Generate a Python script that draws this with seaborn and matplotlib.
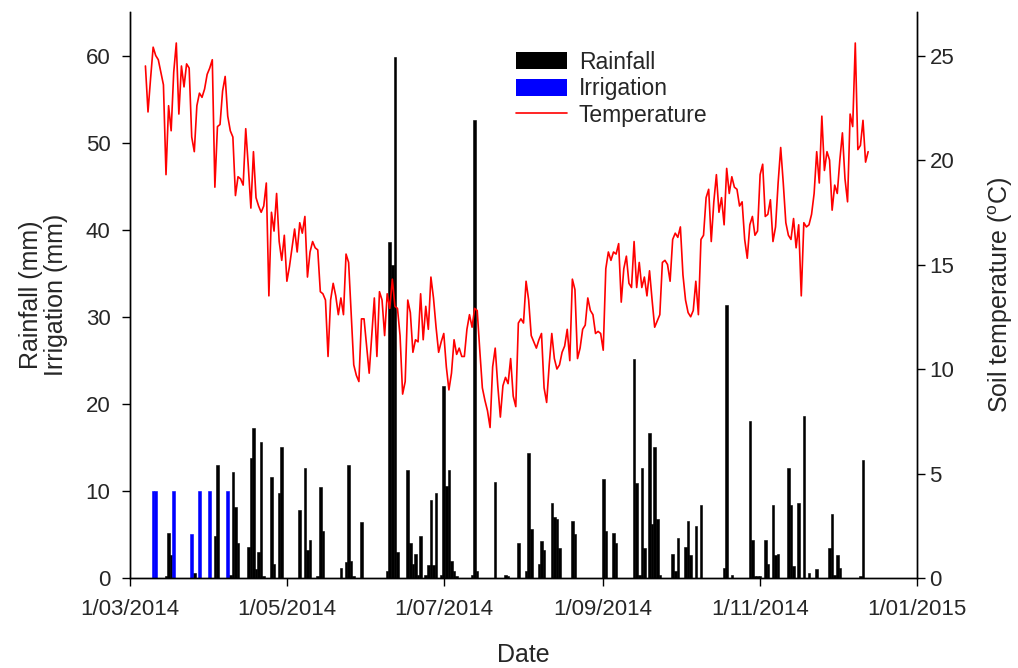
import numpy as np
import pandas as pd
import matplotlib
matplotlib.use("Agg")
import matplotlib.pyplot as plt
import matplotlib.dates as mdates
from matplotlib.patches import Patch
from matplotlib.lines import Line2D
from matplotlib.ticker import FuncFormatter
import seaborn as sns

# ---------------- data (days counted from 1 March 2014) ----------------
start = pd.Timestamp("2014-03-01")

rain_day = [14, 15, 16, 25, 33, 34, 39, 40, 41, 42, 46, 47, 48, 49, 50, 51, 52, 55, 56, 58,
            59, 66, 68, 69, 70, 73, 74, 75, 82, 84, 85, 86, 87, 90, 100, 101, 102, 103, 104, 108,
            109, 110, 111, 112, 113, 115, 116, 117, 118, 119, 121, 122, 123, 124, 125, 126, 127, 133, 134, 135,
            142, 146, 147, 151, 154, 155, 156, 159, 160, 161, 164, 165, 166, 167, 172, 173, 184, 185, 188, 189,
            196, 197, 198, 199, 200, 202, 203, 204, 205, 206, 211, 212, 213, 216, 217, 218, 220, 222, 231, 232,
            234, 241, 242, 243, 244, 245, 247, 248, 250, 251, 252, 256, 257, 258, 260, 262, 264, 267, 272, 273,
            274, 275, 276, 284, 285]
rain_mm = [0.2, 5.2, 2.6, 0.6, 4.8, 13.0, 0.4, 12.2, 8.1, 4.0, 3.6, 13.8, 17.2, 1.0, 3.0, 15.6, 0.2, 11.6, 1.6, 9.8,
           15.0, 7.8, 12.6, 3.2, 4.4, 0.2, 10.4, 5.4, 1.2, 1.8, 13.0, 2.0, 0.2, 6.4, 0.8, 38.6, 36.0, 59.8, 3.0, 12.4,
           4.0, 1.6, 2.8, 0.3, 4.8, 0.4, 1.5, 9.0, 1.5, 9.8, 0.3, 22.0, 10.6, 12.4, 1.9, 0.8, 0.2, 0.3, 52.6, 0.8,
           11.0, 0.4, 0.2, 4.0, 0.8, 14.4, 5.6, 1.6, 4.2, 3.2, 8.6, 7.0, 6.8, 3.4, 6.6, 5.0, 11.4, 5.4, 5.2, 4.0,
           25.2, 10.9, 0.3, 12.6, 3.4, 16.6, 6.2, 15.1, 6.8, 0.4, 2.8, 0.8, 4.6, 3.6, 6.6, 2.6, 6.0, 8.4, 1.2, 31.4,
           0.4, 18.0, 4.4, 0.2, 0.2, 0.2, 4.4, 1.6, 8.4, 2.6, 2.8, 12.6, 8.4, 1.4, 8.6, 18.6, 0.6, 1.0, 3.4, 7.4,
           0.4, 2.6, 1.2, 0.2, 13.6]

irr_day = [9, 10, 17, 24, 27, 31, 38]
irr_mm = [10, 10, 10, 5.0, 10, 10, 10]

temp_first_day = 6
temp_c = [24.5, 22.3, 23.9, 25.4, 25.0, 24.8, 24.2, 23.6, 19.3, 22.6,
          21.4, 24.2, 25.6, 22.2, 24.5, 23.5, 24.6, 24.4, 21.1, 20.4,
          22.6, 23.2, 23.0, 23.4, 24.1, 24.4, 24.8, 18.7, 21.6, 21.7,
          23.3, 24.0, 22.1, 21.4, 21.1, 18.3, 19.2, 19.1, 18.8, 21.5,
          19.7, 17.7, 20.4, 18.2, 17.8, 17.5, 17.8, 18.9, 13.5, 17.5,
          16.6, 18.4, 16.1, 15.2, 16.4, 14.2, 14.9, 15.8, 16.7, 15.6,
          17.0, 16.5, 17.3, 14.4, 15.6, 16.1, 15.8, 15.7, 13.7, 13.6,
          13.3, 10.6, 13.3, 14.1, 13.5, 12.6, 13.4, 12.6, 15.5, 15.1,
          12.6, 10.2, 9.7, 9.4, 12.4, 12.4, 11.1, 9.8, 11.6, 13.4,
          10.6, 13.7, 13.3, 11.6, 13.6, 12.9, 14.3, 13.0, 12.9, 11.6,
          8.8, 9.4, 13.3, 12.7, 10.8, 11.4, 11.3, 13.6, 11.4, 13.0,
          11.9, 14.4, 13.4, 12.0, 10.8, 11.3, 11.7, 10.1, 9.0, 9.8,
          11.4, 10.7, 11.0, 10.6, 10.6, 11.9, 12.6, 12.0, 12.9, 12.8,
          10.9, 9.1, 8.5, 8.0, 7.2, 10.1, 11.0, 9.2, 7.7, 9.2,
          9.6, 9.3, 10.5, 8.7, 8.2, 12.2, 12.4, 12.2, 14.2, 13.3,
          11.6, 11.3, 11.0, 11.4, 11.7, 9.1, 8.4, 10.2, 11.7, 10.5,
          10.0, 10.2, 10.8, 11.1, 11.9, 10.4, 14.3, 13.8, 10.5, 11.0,
          11.9, 12.1, 13.4, 12.8, 12.6, 11.7, 11.8, 11.7, 10.9, 14.8,
          15.6, 15.2, 15.6, 15.5, 16.0, 13.2, 14.8, 15.4, 14.1, 13.9,
          16.1, 13.9, 15.1, 13.9, 14.4, 13.5, 14.7, 13.3, 12.0, 12.3,
          12.6, 15.1, 15.2, 15.0, 14.2, 16.2, 16.5, 16.3, 16.8, 14.5,
          13.3, 12.7, 12.5, 12.8, 14.2, 12.6, 16.2, 16.4, 18.2, 18.6,
          16.1, 18.0, 19.3, 17.5, 18.2, 16.9, 19.6, 18.4, 19.2, 18.7,
          18.6, 17.8, 18.0, 16.2, 15.3, 16.9, 17.3, 16.4, 16.6, 19.3,
          19.8, 17.3, 17.4, 18.1, 16.1, 16.8, 18.9, 20.6, 18.9, 17.0,
          16.4, 16.2, 17.2, 15.8, 16.9, 13.5, 17.0, 16.8, 16.9, 17.4,
          18.4, 20.4, 18.9, 22.1, 19.5, 20.4, 20.0, 17.6, 18.8, 18.4,
          20.0, 21.3, 19.1, 18.0, 22.2, 21.6, 25.6, 20.5, 20.7, 21.9,
          19.9, 20.4]

x_tick_dates = ["2014-03-01", "2014-05-01", "2014-07-01", "2014-09-01", "2014-11-01", "2015-01-01"]
left_ticks = [0, 10, 20, 30, 40, 50, 60]
right_ticks = [0, 5, 10, 15, 20, 25]

# ---------------- build frames ----------------
rain_dates = start + pd.to_timedelta(rain_day, unit="D")
irr_dates = start + pd.to_timedelta(irr_day, unit="D")
temp_df = pd.DataFrame({
    "date": start + pd.to_timedelta(np.arange(len(temp_c)) + temp_first_day, unit="D"),
    "temp": temp_c,
})

# ---------------- style ----------------
sns.set_style("ticks")
plt.rcParams["font.family"] = ["Liberation Sans", "DejaVu Sans"]
plt.rcParams["axes.linewidth"] = 1.0

fig = plt.figure(figsize=(10.18, 6.68), dpi=100)
ax = fig.add_axes([130 / 1018, 1 - 578 / 668, 787 / 1018, 566 / 668])

ax.bar(rain_dates, rain_mm, width=1.0, color="black", edgecolor="black", linewidth=0.4, zorder=2)
ax.bar(irr_dates, irr_mm, width=1.0, color="blue", edgecolor="blue", linewidth=0.4, zorder=2)

ax2 = ax.twinx()
sns.lineplot(data=temp_df, x="date", y="temp", ax=ax2, color="red", linewidth=1.2)

ymax = 65
ax.set_ylim(0, ymax)
ax2.set_ylim(0, ymax * 25 / 60)
ax.set_yticks(left_ticks)
ax2.set_yticks(right_ticks)

xt = pd.to_datetime(x_tick_dates)
ax.set_xlim(xt[0], xt[-1])
ax.set_xticks(xt)


def fmt(v, p):
    d = mdates.num2date(v)
    return f"{d.day}/{d.month:02d}/{d.year}"


ax.xaxis.set_major_formatter(FuncFormatter(fmt))

for a in (ax, ax2):
    a.spines["top"].set_visible(False)
    for s in a.spines.values():
        s.set_color("black")

ax.tick_params(axis="both", direction="out", length=6, width=1, labelsize=16, color="black")
ax.tick_params(axis="x", pad=9)
ax.tick_params(axis="y", pad=8)
ax2.tick_params(axis="y", direction="out", length=6, width=1, labelsize=16, pad=3, color="black")

ax.set_xlabel("Date", fontsize=18, labelpad=17)
ax.set_ylabel("Rainfall (mm)\nIrrigation (mm)", fontsize=18, labelpad=13, linespacing=1.05)
ax2.set_ylabel("Soil temperature ($\\mathregular{^o}$C)", fontsize=18, labelpad=23)

handles = [Patch(facecolor="black", edgecolor="none"),
           Patch(facecolor="blue", edgecolor="none"),
           Line2D([0], [0], color="red", linewidth=1.2)]
labels = ["Rainfall", "Irrigation", "Temperature"]
ax2.legend(handles, labels, loc="upper left", bbox_to_anchor=(0.464, 0.968), frameon=False,
           fontsize=16.5, handlelength=2.25, handleheight=0.75, handletextpad=0.5, labelspacing=0.15)

fig.savefig("out.png", dpi=100)
